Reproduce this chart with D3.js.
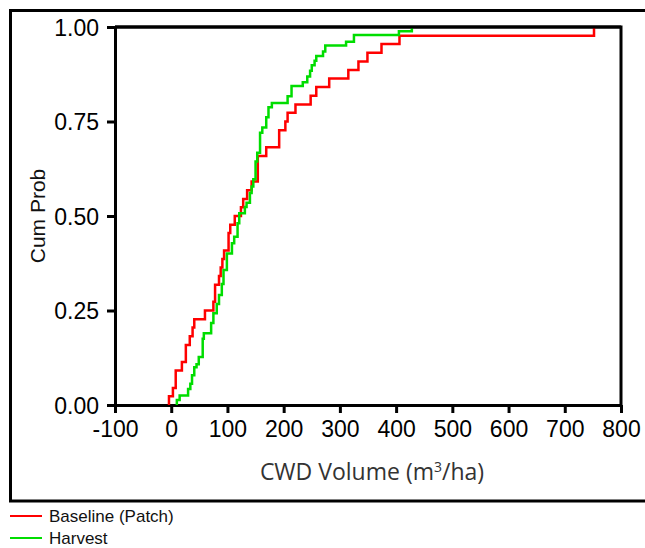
<!DOCTYPE html>
<html>
<head>
<meta charset="utf-8">
<script src="https://cdn.jsdelivr.net/npm/d3@7/dist/d3.min.js"></script>
<style>
  html, body { margin: 0; padding: 0; background: #fff; }
  svg { display: block; }
</style>
</head>
<body>
<svg id="chart" width="645" height="548"></svg>
<script>
// ---- data ----
const xTicks = [-100, 0, 100, 200, 300, 400, 500, 600, 700, 800];
const yTicks = [0, 0.25, 0.5, 0.75, 1.0];

// Baseline (Patch): volume (m3/ha) and cumulative probability after each step
const baselineVol = [-4, 3, 8, 19, 26, 33, 38, 41, 60, 75, 78, 85, 88, 91, 94, 102, 105, 113, 124, 128, 135, 143, 154, 169, 192, 203, 207, 221, 248, 258, 281, 315, 333, 349, 374, 406, 752];
const baselineProb = [0.023, 0.045, 0.091, 0.114, 0.159, 0.182, 0.205, 0.227, 0.25, 0.273, 0.318, 0.341, 0.364, 0.386, 0.409, 0.455, 0.477, 0.5, 0.523, 0.545, 0.568, 0.591, 0.659, 0.682, 0.727, 0.75, 0.773, 0.795, 0.818, 0.841, 0.864, 0.886, 0.909, 0.932, 0.955, 0.977, 1.0];

// Harvest
const harvestVol = [10, 15, 30, 34, 37, 41, 45, 49, 56, 58, 71, 75, 81, 85, 90, 93, 99, 108, 112, 118, 121, 131, 134, 140, 143, 146, 150, 153, 158, 162, 169, 173, 179, 207, 214, 234, 242, 247, 250, 255, 258, 270, 274, 311, 325, 405, 428];
const harvestProb = [0.013, 0.025, 0.042, 0.056, 0.079, 0.1, 0.108, 0.127, 0.175, 0.19, 0.217, 0.243, 0.267, 0.291, 0.32, 0.357, 0.401, 0.428, 0.445, 0.481, 0.507, 0.524, 0.535, 0.561, 0.578, 0.597, 0.644, 0.667, 0.72, 0.734, 0.761, 0.788, 0.799, 0.817, 0.844, 0.854, 0.869, 0.884, 0.899, 0.911, 0.923, 0.935, 0.951, 0.961, 0.979, 0.989, 1.0];

const seriesNames = ["Baseline (Patch)", "Harvest"];
const seriesColors = ["#ff0000", "#00dd00"];

// ---- drawing ----
const svg = d3.select("#chart");
const m = { left: 115, right: 621, top: 27, bottom: 405 };

// outer frame (right edge runs off the picture)
svg.append("rect")
  .attr("x", 10.5).attr("y", 10.5)
  .attr("width", 645).attr("height", 490.5)
  .attr("fill", "none").attr("stroke", "#000").attr("stroke-width", 3);

const x = d3.scaleLinear().domain([-100, 800]).range([m.left, m.right]);
const y = d3.scaleLinear().domain([0, 1]).range([m.bottom, m.top]);

// plot box (top + right edges)
svg.append("path")
  .attr("d", `M${m.left},${m.top}H${m.right}V${m.bottom}`)
  .attr("fill", "none").attr("stroke", "#000").attr("stroke-width", 3);

const xAxis = svg.append("g")
  .attr("transform", `translate(0,${m.bottom})`)
  .call(d3.axisBottom(x).tickValues(xTicks).tickFormat(d => String(d)).tickSize(8).tickSizeOuter(0).tickPadding(8));

const yAxis = svg.append("g")
  .attr("transform", `translate(${m.left},0)`)
  .call(d3.axisLeft(y).tickValues(yTicks).tickFormat(d => d.toFixed(2)).tickSize(8).tickSizeOuter(0).tickPadding(8));

[xAxis, yAxis].forEach(g => {
  g.select(".domain").attr("stroke", "#000").attr("stroke-width", 3);
  g.selectAll(".tick line").attr("stroke", "#000").attr("stroke-width", 3);
  g.selectAll(".tick text")
    .attr("fill", "#000")
    .style("font-family", "'Liberation Sans', Arial, sans-serif")
    .style("font-size", "23px");
});
yAxis.selectAll(".tick text").attr("dy", "0.36em");

// axis titles
svg.append("text")
  .attr("transform", `translate(45,${(m.top + m.bottom) / 2}) rotate(-90)`)
  .attr("text-anchor", "middle")
  .style("font-family", "'Liberation Sans', Arial, sans-serif")
  .style("font-size", "21px")
  .attr("fill", "#111")
  .text("Cum Prob");

const xt = svg.append("text")
  .attr("x", 372).attr("y", 480)
  .attr("text-anchor", "middle")
  .style("font-family", "'Open Sans', sans-serif")
  .style("font-size", "23px")
  .attr("fill", "#333");
xt.append("tspan").text("CWD Volume (m");
xt.append("tspan").attr("dy", "-8").style("font-size", "14px").text("3");
xt.append("tspan").attr("dy", "8").text("/ha)");

// step lines
const line = d3.line()
  .x(d => x(d[0]))
  .y(d => y(d[1]))
  .curve(d3.curveStepAfter);

function stepPoints(vol, prob) {
  const pts = [[vol[0], 0]];
  vol.forEach((v, i) => pts.push([v, prob[i]]));
  return pts;
}

const series = [
  stepPoints(baselineVol, baselineProb),
  stepPoints(harvestVol, harvestProb)
];

series.forEach((pts, i) => {
  svg.append("path")
    .datum(pts)
    .attr("d", line)
    .attr("fill", "none")
    .attr("stroke", seriesColors[i])
    .attr("stroke-width", 2.5);
});

// redraw top box edge over the lines' ends
svg.append("path")
  .attr("d", `M${m.left},${m.top}H${m.right}`)
  .attr("fill", "none").attr("stroke", "#000").attr("stroke-width", 3);

// legend
const leg = svg.append("g");
seriesNames.forEach((name, i) => {
  const ly = 516 + i * 22;
  leg.append("line")
    .attr("x1", 10).attr("x2", 42).attr("y1", ly).attr("y2", ly)
    .attr("stroke", seriesColors[i]).attr("stroke-width", 2);
  leg.append("text")
    .attr("x", 49).attr("y", ly).attr("dy", "0.36em")
    .style("font-family", "'Liberation Sans', Arial, sans-serif")
    .style("font-size", "17px")
    .attr("fill", "#111")
    .text(name);
});
</script>
</body>
</html>
